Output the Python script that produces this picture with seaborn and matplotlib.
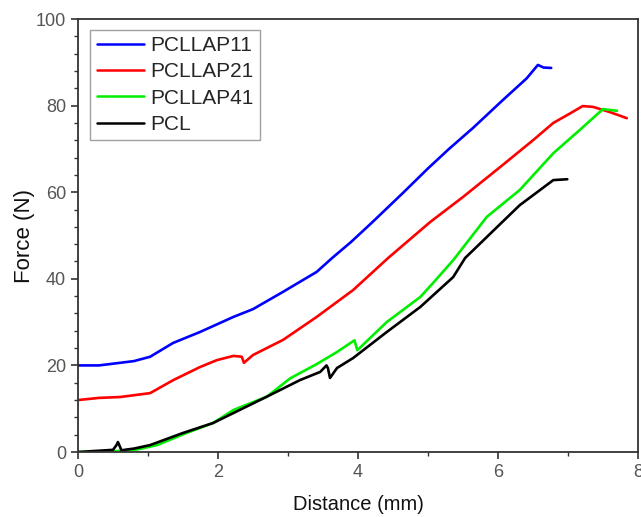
import numpy as np
import pandas as pd
import matplotlib
matplotlib.use("Agg")
import matplotlib.pyplot as plt
from matplotlib.ticker import MultipleLocator
import seaborn as sns

# PCLLAP11 (blue)
x_p11 = [0.0, 0.3, 0.55, 0.8, 1.03, 1.36, 1.74, 2.22, 2.5, 2.93, 3.41, 3.63, 3.9, 4.2, 4.64, 5.0, 5.3, 5.64, 6.07, 6.41, 6.57, 6.65, 6.76]
y_p11 = [20.0, 20.0, 20.5, 21.0, 22.0, 25.2, 27.7, 31.2, 33.0, 37.0, 41.6, 44.8, 48.5, 53.0, 59.8, 65.5, 70.0, 74.8, 81.3, 86.3, 89.4, 88.8, 88.7]

# PCLLAP21 (red)
x_p21 = [0.0, 0.3, 0.6, 1.03, 1.36, 1.74, 1.98, 2.22, 2.34, 2.37, 2.5, 2.93, 3.41, 3.93, 4.43, 5.03, 5.5, 6.03, 6.5, 6.79, 7.03, 7.21, 7.36, 7.6, 7.84]
y_p21 = [12.0, 12.5, 12.7, 13.6, 16.6, 19.6, 21.2, 22.2, 22.0, 20.6, 22.4, 25.9, 31.2, 37.4, 44.8, 53.1, 58.9, 65.8, 72.0, 76.0, 78.2, 79.9, 79.7, 78.5, 77.1]

# PCLLAP41 (green)
x_p41 = [0.0, 0.55, 0.85, 1.13, 1.55, 1.93, 2.22, 2.7, 3.03, 3.41, 3.7, 3.95, 3.99, 4.41, 4.89, 5.07, 5.36, 5.84, 6.31, 6.79, 7.17, 7.5, 7.7]
y_p41 = [0.0, 0.2, 0.6, 1.6, 4.4, 6.7, 9.7, 12.8, 17.0, 20.3, 23.1, 25.8, 23.5, 30.0, 35.8, 39.0, 44.3, 54.3, 60.5, 69.0, 74.4, 79.2, 78.8]

# PCL (black)
x_pcl = [0.0, 0.5, 0.55, 0.57, 0.6, 0.62, 0.8, 1.03, 1.5, 1.93, 2.22, 2.7, 3.17, 3.46, 3.55, 3.57, 3.6, 3.7, 3.93, 4.41, 4.89, 5.36, 5.53, 5.99, 6.31, 6.6, 6.79, 6.99]
y_pcl = [0.0, 0.5, 1.6, 2.3, 1.2, 0.4, 0.8, 1.6, 4.4, 6.7, 9.0, 12.8, 16.6, 18.5, 20.0, 19.4, 17.1, 19.4, 21.7, 27.7, 33.5, 40.4, 44.8, 52.0, 57.0, 60.5, 62.8, 63.0]

names = ["PCLLAP11", "PCLLAP21", "PCLLAP41", "PCL"]
colors = ["#0000ff", "#ff0000", "#00ee00", "#000000"]

frames = []
for n, xs, ys in zip(names, [x_p11, x_p21, x_p41, x_pcl], [y_p11, y_p21, y_p41, y_pcl]):
    frames.append(pd.DataFrame({"Distance": xs, "Force": ys, "Sample": n}))
df = pd.concat(frames, ignore_index=True)

sns.set_style("white")
plt.rcParams["font.family"] = ["Liberation Sans", "DejaVu Sans"]

fig = plt.figure(figsize=(6.41, 5.17), dpi=100)
ax = fig.add_axes([0.1217, 0.1257, 0.8736, 0.8375])

sns.lineplot(data=df, x="Distance", y="Force", hue="Sample", hue_order=names,
             palette=dict(zip(names, colors)), sort=False, estimator=None,
             linewidth=1.9, ax=ax)

ax.set_xlim(0, 8)
ax.set_ylim(0, 100)
ax.xaxis.set_major_locator(MultipleLocator(2))
ax.xaxis.set_minor_locator(MultipleLocator(1))
ax.yaxis.set_major_locator(MultipleLocator(20))
ax.yaxis.set_minor_locator(MultipleLocator(4))
ax.tick_params(axis="both", which="major", direction="out", length=5, width=1.2,
               labelsize=13, labelcolor="#555555", color="#333333",
               bottom=True, left=True, top=False, right=False)
ax.tick_params(axis="both", which="minor", direction="out", length=3, width=1.0,
               color="#333333", bottom=True, left=True, top=False, right=False)
for s in ax.spines.values():
    s.set_color("#333333")
    s.set_linewidth(1.3)

ax.set_xlabel("Distance (mm)", fontsize=14.5, color="#111111", labelpad=10)
ax.set_ylabel("Force (N)", fontsize=16, color="#111111", labelpad=1)

leg = ax.legend(loc="upper left", bbox_to_anchor=(0.022, 0.975), fontsize=15,
                frameon=True, fancybox=False, edgecolor="#888888",
                handlelength=2.3, handletextpad=0.3, borderpad=0.3, labelspacing=0.35,
                borderaxespad=0.0)
leg.get_frame().set_linewidth(1.0)
for line in leg.get_lines():
    line.set_linewidth(1.8)

fig.savefig("out.png", dpi=100)
